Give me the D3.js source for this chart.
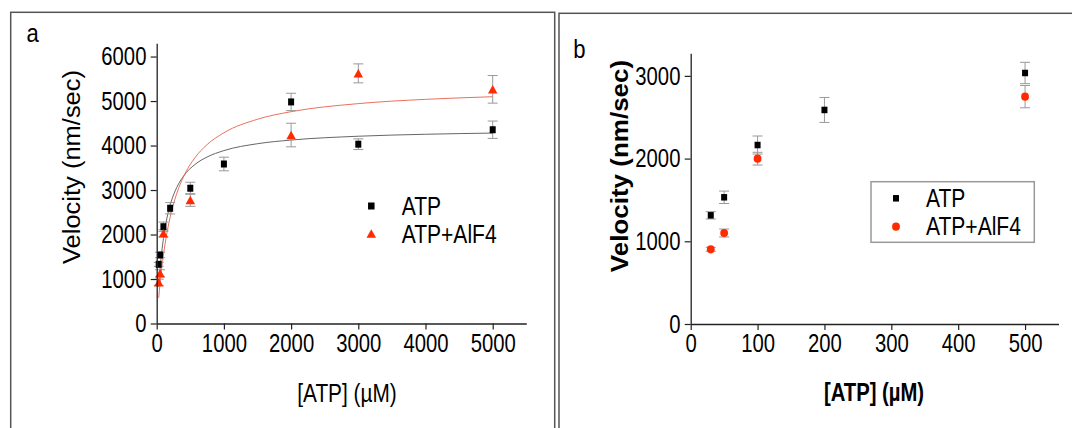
<!DOCTYPE html>
<html>
<head>
<meta charset="utf-8">
<script src="https://cdn.jsdelivr.net/npm/d3@7"></script>
<style>
  html, body { margin: 0; padding: 0; background: #fff; }
  svg { display: block; }
</style>
</head>
<body>
<svg id="chart" width="1072" height="428"></svg>
<script>
// ---------------- DATA ----------------
// Panel a: full concentration range
const concA_ATP = [30, 50, 100, 200, 500, 1000, 2000, 3000, 5000];
const velA_ATP  = [1330, 1540, 2175, 2590, 3040, 3585, 4980, 4030, 4355];
const errA_ATP  = [45, 60, 105, 128, 135, 153, 195, 120, 195];

const concA_AlF = [30, 50, 100, 500, 2000, 3000, 5000];
const velA_AlF  = [925, 1128, 2027, 2775, 4236, 5622, 5263];
const errA_AlF  = [70, 80, 80, 142, 265, 213, 310];

// fitted curves
const fitA_ATP_x = [30, 40, 50, 75, 100, 150, 200, 300, 400, 570, 750, 1000, 1500, 2000, 3000, 4000, 5000];
const fitA_ATP_y = [823, 1033, 1220, 1606, 1909, 2352, 2661, 3063, 3314, 3575, 3742, 3886, 4041, 4123, 4209, 4253, 4280];
const fitA_AlF_x = [30, 40, 50, 75, 100, 150, 200, 300, 400, 570, 750, 1000, 1500, 2000, 3000, 4000, 5000];
const fitA_AlF_y = [577, 743, 898, 1242, 1537, 2016, 2388, 2929, 3302, 3728, 4021, 4287, 4591, 4761, 4942, 5038, 5097];

// Panel b: low concentration range
const concB_ATP = [30, 50, 100, 200, 500];
const velB_ATP  = [1314, 1532, 2164, 2588, 3035];
const errB_ATP  = [44, 75, 109, 151, 129];

const concB_AlF = [30, 50, 100, 500];
const velB_AlF  = [903, 1100, 1999, 2749];
const errB_AlF  = [24, 48, 77, 135];

const ticksA_x = [0, 1000, 2000, 3000, 4000, 5000];
const ticksA_y = [0, 1000, 2000, 3000, 4000, 5000, 6000];
const ticksB_x = [0, 100, 200, 300, 400, 500];
const ticksB_y = [0, 1000, 2000, 3000];

const seriesNames = ["ATP", "ATP+AlF4"];

// ---------------- STYLE ----------------
const FONT = '"Liberation Sans", Arial, Helvetica, sans-serif';
const SX = 0.78;
const RED = "#ff2a00";
const svg = d3.select("#chart").attr("font-family", FONT);

function addText(parent, x, y, str, o = {}) {
  const size = o.size || 26, weight = o.weight || "normal", anchor = o.anchor || "start";
  const sx = o.sx || SX;
  const t = parent.append("text").text(str)
    .attr("font-size", size).attr("font-weight", weight)
    .attr("text-anchor", anchor).attr("fill", "#000");
  t.attr("transform", o.rotate
    ? `translate(${x},${y}) rotate(-90) scale(1,${sx})`
    : `translate(${x},${y}) scale(${sx},1)`);
  return t;
}

// panel borders
svg.append("rect").attr("x", 10.7).attr("y", 12.3).attr("width", 544).attr("height", 440)
  .attr("fill", "none").attr("stroke", "#555").attr("stroke-width", 1.5);
svg.append("rect").attr("x", 559).attr("y", 13.3).attr("width", 540).attr("height", 440)
  .attr("fill", "none").attr("stroke", "#555").attr("stroke-width", 1.5);

function drawAxes(g, x, y, xt, yt) {
  const xa = d3.axisBottom(x).tickValues(xt).tickSize(6).tickSizeOuter(0).tickFormat(d3.format("d"));
  const ya = d3.axisLeft(y).tickValues(yt).tickSize(6).tickSizeOuter(0).tickFormat(d3.format("d"));
  const gx = g.append("g").attr("transform", `translate(0,${y.range()[0]})`).call(xa);
  const gy = g.append("g").attr("transform", `translate(${x.range()[0]},0)`).call(ya);
  [gx, gy].forEach(s => {
    s.attr("font-size", 26).attr("font-family", FONT);
    s.select(".domain").attr("stroke", "#222").attr("stroke-width", 1.3);
    s.selectAll(".tick line").attr("stroke", "#222").attr("stroke-width", 1.2);
    s.selectAll(".tick text").attr("fill", "#000");
  });
  gx.selectAll(".tick text").attr("y", 9.8).attr("transform", `scale(${SX},1)`);
  gy.selectAll(".tick text").attr("x", -10.3 / SX).attr("transform", `scale(${SX},1)`);
}

function errorBars(g, x, y, cs, vs, es) {
  const eg = g.append("g").attr("stroke", "#999").attr("stroke-width", 1).attr("fill", "none");
  cs.forEach((c, i) => {
    const px = x(c), y1 = y(vs[i] + es[i]), y2 = y(vs[i] - es[i]);
    eg.append("line").attr("x1", px).attr("x2", px).attr("y1", y1).attr("y2", y2);
    eg.append("line").attr("x1", px - 5).attr("x2", px + 5).attr("y1", y1).attr("y2", y1);
    eg.append("line").attr("x1", px - 5).attr("x2", px + 5).attr("y1", y2).attr("y2", y2);
  });
}

function square(g, px, py, w, h) {
  g.append("rect").attr("x", px - w / 2).attr("y", py - h / 2).attr("width", w).attr("height", h).attr("fill", "#000");
}
function triangle(g, px, py, w, h) {
  g.append("path").attr("d", `M${px},${py - h / 2}L${px + w / 2},${py + h / 2}L${px - w / 2},${py + h / 2}Z`).attr("fill", RED);
}
function dot(g, px, py) {
  g.append("ellipse").attr("cx", px).attr("cy", py).attr("rx", 3.9).attr("ry", 4.1).attr("fill", RED);
}

// ---------------- PANEL A ----------------
{
  const g = svg.append("g");
  const x = d3.scaleLinear().domain([0, 5500]).range([156.7, 526.3]);
  const y = d3.scaleLinear().domain([0, 6300]).range([323.5, 43.2]);

  // fit curves
  const line = d3.line().x(d => x(d[0])).y(d => y(d[1])).curve(d3.curveMonotoneX);
  g.append("path").datum(fitA_ATP_x.map((c, i) => [c, fitA_ATP_y[i]]))
    .attr("d", line).attr("fill", "none").attr("stroke", "#555").attr("stroke-width", 0.9);
  g.append("path").datum(fitA_AlF_x.map((c, i) => [c, fitA_AlF_y[i]]))
    .attr("d", line).attr("fill", "none").attr("stroke", "#e8604c").attr("stroke-width", 0.9);

  errorBars(g, x, y, concA_ATP, velA_ATP, errA_ATP);
  errorBars(g, x, y, concA_AlF, velA_AlF, errA_AlF);
  concA_ATP.forEach((c, i) => square(g, x(c), y(velA_ATP[i]), 6, 7));
  concA_AlF.forEach((c, i) => triangle(g, x(c), y(velA_AlF[i]), 9.5, 8.5));

  drawAxes(g, x, y, ticksA_x, ticksA_y);

  addText(g, 26.5, 41.7, "a", { size: 26, sx: 0.85 });
  addText(g, 80.4, 167, "Velocity (nm/sec)", { size: 25.5, anchor: "middle", rotate: true, sx: 0.95 });
  addText(g, 347, 401.5, "[ATP] (µM)", { size: 26, anchor: "middle", sx: 0.8 });

  // legend
  square(g, 371.3, 206, 6.5, 7);
  addText(g, 401.7, 215, seriesNames[0], { sx: 0.81 });
  triangle(g, 371.3, 233.5, 9.5, 8.5);
  addText(g, 401.7, 243.3, seriesNames[1], { sx: 0.81 });
}

// ---------------- PANEL B ----------------
{
  const g = svg.append("g");
  const x = d3.scaleLinear().domain([0, 550]).range([690.7, 1058.5]);
  const y = d3.scaleLinear().domain([0, 3273]).range([324, 53.3]);

  errorBars(g, x, y, concB_ATP, velB_ATP, errB_ATP);
  errorBars(g, x, y, concB_AlF, velB_AlF, errB_AlF);
  concB_ATP.forEach((c, i) => square(g, x(c), y(velB_ATP[i]), 6, 6.5));
  concB_AlF.forEach((c, i) => dot(g, x(c), y(velB_AlF[i])));

  drawAxes(g, x, y, ticksB_x, ticksB_y);

  addText(g, 573.3, 58.3, "b", { size: 26, sx: 0.85 });
  addText(g, 628, 166, "Velocity (nm/sec)", { size: 26, weight: "bold", anchor: "middle", rotate: true, sx: 0.95 });
  addText(g, 874, 401, "[ATP] (µM)", { size: 26, weight: "bold", anchor: "middle" });

  // legend
  g.append("rect").attr("x", 871).attr("y", 181.7).attr("width", 163.3).attr("height", 60.6)
    .attr("fill", "#fff").attr("stroke", "#999").attr("stroke-width", 1.5);
  square(g, 896, 198.3, 6, 6.5);
  addText(g, 926, 206.7, seriesNames[0], { sx: 0.81 });
  dot(g, 896, 226.7);
  addText(g, 926, 235, seriesNames[1], { sx: 0.81 });
}
</script>
</body>
</html>
